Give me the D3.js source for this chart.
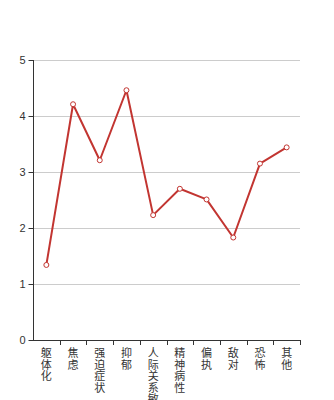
<!DOCTYPE html>
<html><head><meta charset="utf-8">
<script src="https://cdn.jsdelivr.net/npm/d3@7"></script>
<style>body{margin:0;background:#fff}svg{display:block}</style>
</head><body><svg id="c" width="334" height="400"></svg>
<script>
const categories = ["躯体化","焦虑","强迫症状","抑郁","人际关系敏感","精神病性","偏执","敌对","恐怖","其他"];
const values = [1.34, 4.21, 3.21, 4.46, 2.23, 2.70, 2.51, 1.83, 3.15, 3.44];
const yTicks = [0, 1, 2, 3, 4, 5];

const svg = d3.select("#c");
const mLeft = 33, mRight = 300, mTop = 60, mBottom = 340;
const x = d3.scaleBand().domain(categories).range([mLeft, mRight]);
const y = d3.scaleLinear().domain([0, 5]).range([mBottom, mTop]);
const font = "'Noto Sans CJK SC', 'DejaVu Sans', sans-serif";

// grid
svg.append("g").selectAll("line").data(yTicks.filter(d => d > 0)).join("line")
  .attr("x1", mLeft).attr("x2", mRight)
  .attr("y1", d => y(d) + 0.5).attr("y2", d => y(d) + 0.5)
  .attr("stroke", "#cccccc").attr("stroke-width", 1);

// y axis
const ya = svg.append("g").attr("transform", `translate(${mLeft + 0.5},0)`)
  .call(d3.axisLeft(y).tickValues(yTicks).tickSize(5).tickPadding(3).tickFormat(d3.format("d")));
ya.select(".domain").attr("stroke", "#333").attr("d", `M0,${mTop}V${mBottom + 0.5}`);
ya.selectAll(".tick line").attr("stroke", "#333");
ya.selectAll(".tick text").attr("font-family", "'Liberation Sans', Arial, sans-serif").attr("font-size", 11).attr("fill", "#333");

// x axis
const edges = categories.map(c => x(c)).concat([mRight]);
const xa = svg.append("g");
xa.append("line").attr("x1", mLeft).attr("x2", mRight + 0.5)
  .attr("y1", mBottom + 0.5).attr("y2", mBottom + 0.5).attr("stroke", "#333");
xa.selectAll("line.t").data(edges.slice(1)).join("line").attr("class", "t")
  .attr("x1", d => Math.round(d) + 0.5).attr("x2", d => Math.round(d) + 0.5)
  .attr("y1", mBottom).attr("y2", mBottom + 5).attr("stroke", "#333");

// vertical labels
const lab = svg.append("g");
categories.forEach(c => {
  const t = lab.append("text").attr("font-family", font).attr("font-size", 11)
    .attr("fill", "#333").attr("text-anchor", "middle");
  Array.from(c).forEach((ch, i) => {
    t.append("tspan").attr("x", x(c) + x.bandwidth() / 2).attr("y", 357 + i * 11.5).text(ch);
  });
});

// line
const cx = i => x(categories[i]) + x.bandwidth() / 2;
const line = d3.line().x((d, i) => cx(i)).y(d => y(d));
svg.append("path").datum(values).attr("d", line).attr("fill", "none")
  .attr("stroke", "#c23531").attr("stroke-width", 2).attr("stroke-linejoin", "round");
svg.append("g").selectAll("circle").data(values).join("circle")
  .attr("cx", (d, i) => cx(i)).attr("cy", d => y(d)).attr("r", 2.5)
  .attr("fill", "#fff").attr("stroke", "#c23531").attr("stroke-width", 1);
</script></body></html>
